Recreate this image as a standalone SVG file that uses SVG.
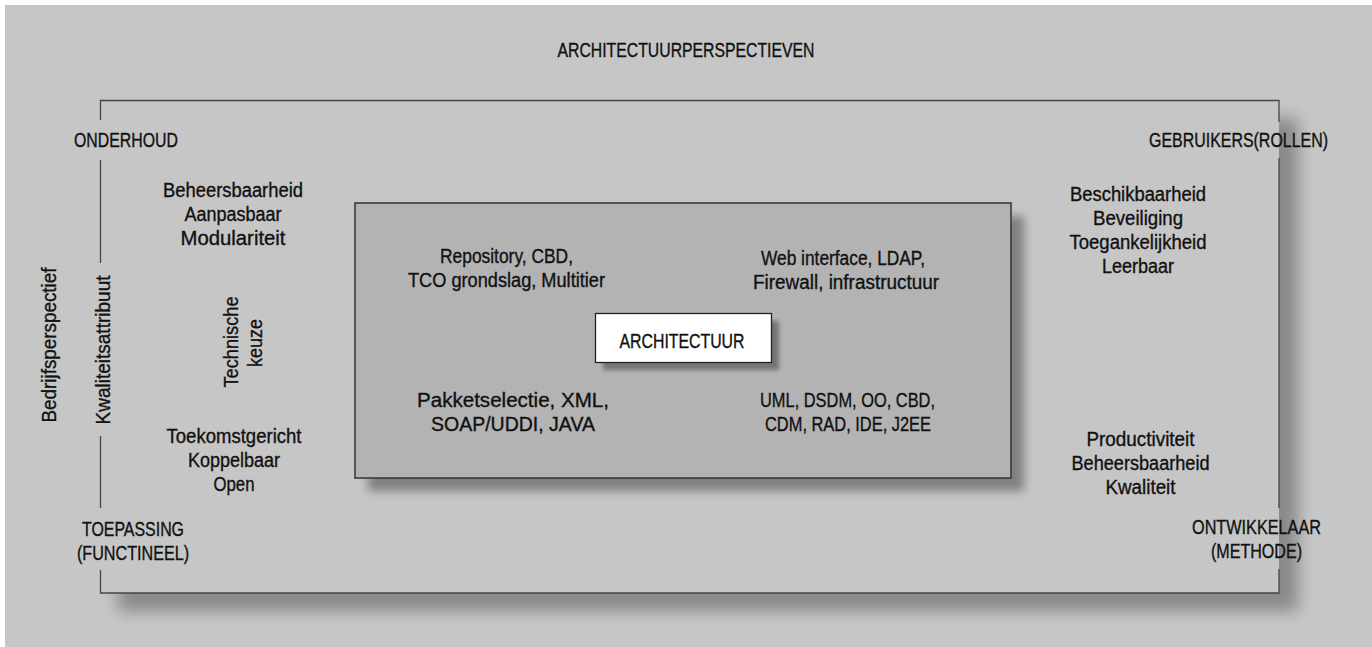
<svg xmlns="http://www.w3.org/2000/svg" width="1372" height="647" viewBox="0 0 1372 647">
<style>
text{font-family:"Liberation Sans",Arial,sans-serif;font-size:20px;fill:#111;stroke:#111;stroke-width:0.35;text-anchor:middle}
.frame{stroke:#454545;stroke-width:1.3;fill:none}
</style>
<defs>
<filter id="sh1" x="-10%" y="-10%" width="130%" height="130%"><feGaussianBlur stdDeviation="8"/></filter>
<filter id="sh2" x="-10%" y="-10%" width="130%" height="130%"><feGaussianBlur stdDeviation="5"/></filter>
<filter id="sh3" x="-10%" y="-20%" width="130%" height="150%"><feGaussianBlur stdDeviation="2"/></filter>
</defs>
<rect x="0" y="0" width="1372" height="647" fill="#ffffff"/>
<rect x="5" y="5" width="1367" height="642" fill="#c6c6c6"/>
<g id="frame">
<rect x="118" y="118" width="1180" height="493" fill="#000" opacity="0.3" filter="url(#sh1)"/>
<rect x="100.5" y="100.5" width="1178.5" height="492.5" fill="#c6c6c6"/>
<path class="frame" d="M100.5,120 V100.5 H1279 V122 M1279,158 V508 M1279,569 V593 H100.5 V570 M100.5,508 V436 M100.5,263 V160"/>
</g>
<text x="686" y="57" textLength="257" lengthAdjust="spacingAndGlyphs">ARCHITECTUURPERSPECTIEVEN</text>
<g id="onderhoud"><text x="126" y="147" textLength="104" lengthAdjust="spacingAndGlyphs">ONDERHOUD</text></g>
<g id="gebruikers"><text x="1238.5" y="147" textLength="179" lengthAdjust="spacingAndGlyphs">GEBRUIKERS(ROLLEN)</text></g>
<g id="toepassing"><text x="133" y="536" textLength="102" lengthAdjust="spacingAndGlyphs">TOEPASSING</text><text x="133" y="560" textLength="112" lengthAdjust="spacingAndGlyphs">(FUNCTINEEL)</text></g>
<g id="ontwikkelaar"><text x="1256.5" y="534" textLength="129" lengthAdjust="spacingAndGlyphs">ONTWIKKELAAR</text><text x="1256.5" y="558" textLength="91" lengthAdjust="spacingAndGlyphs">(METHODE)</text></g>
<g id="bedrijfsperspectief"><text transform="translate(56,345) rotate(-90)" x="0" y="0" textLength="155" lengthAdjust="spacingAndGlyphs">Bedrijfsperspectief</text></g>
<g id="kwaliteitsattribuut"><text transform="translate(110,350) rotate(-90)" x="0" y="0" textLength="149" lengthAdjust="spacingAndGlyphs">Kwaliteitsattribuut</text></g>
<g id="technische-keuze"><text transform="translate(238,342) rotate(-90)" x="0" y="0" textLength="91" lengthAdjust="spacingAndGlyphs">Technische</text><text transform="translate(262,343) rotate(-90)" x="0" y="0" textLength="48" lengthAdjust="spacingAndGlyphs">keuze</text></g>
<g id="onderhoud-attr"><text x="233" y="197" textLength="140" lengthAdjust="spacingAndGlyphs">Beheersbaarheid</text><text x="233" y="221" textLength="97" lengthAdjust="spacingAndGlyphs">Aanpasbaar</text><text x="233" y="245" textLength="105" lengthAdjust="spacingAndGlyphs">Modulariteit</text></g>
<g id="gebruikers-attr"><text x="1138" y="201" textLength="136" lengthAdjust="spacingAndGlyphs">Beschikbaarheid</text><text x="1138" y="225" textLength="90" lengthAdjust="spacingAndGlyphs">Beveiliging</text><text x="1138" y="249" textLength="137" lengthAdjust="spacingAndGlyphs">Toegankelijkheid</text><text x="1138" y="273" textLength="72" lengthAdjust="spacingAndGlyphs">Leerbaar</text></g>
<g id="toepassing-attr"><text x="234" y="443" textLength="135" lengthAdjust="spacingAndGlyphs">Toekomstgericht</text><text x="234" y="467" textLength="92" lengthAdjust="spacingAndGlyphs">Koppelbaar</text><text x="234" y="491" textLength="41" lengthAdjust="spacingAndGlyphs">Open</text></g>
<g id="ontwikkelaar-attr"><text x="1140.5" y="446" textLength="108" lengthAdjust="spacingAndGlyphs">Productiviteit</text><text x="1140.5" y="470" textLength="138" lengthAdjust="spacingAndGlyphs">Beheersbaarheid</text><text x="1140.5" y="494" textLength="70" lengthAdjust="spacingAndGlyphs">Kwaliteit</text></g>
<g id="kern">
<rect x="368" y="216" width="656" height="275" fill="#000" opacity="0.35" filter="url(#sh2)"/>
<rect x="355" y="203" width="656" height="275" fill="#b3b3b3" stroke="#333" stroke-width="1.5"/>
<text x="506.5" y="263" textLength="133" lengthAdjust="spacingAndGlyphs">Repository, CBD,</text><text x="506.5" y="287" textLength="197" lengthAdjust="spacingAndGlyphs">TCO grondslag, Multitier</text>
<text x="843" y="265" textLength="164" lengthAdjust="spacingAndGlyphs">Web interface, LDAP,</text><text x="846" y="289" textLength="186" lengthAdjust="spacingAndGlyphs">Firewall, infrastructuur</text>
<text x="513" y="407" textLength="192" lengthAdjust="spacingAndGlyphs">Pakketselectie, XML,</text><text x="513" y="431" textLength="164" lengthAdjust="spacingAndGlyphs">SOAP/UDDI, JAVA</text>
<text x="847.5" y="407" textLength="175" lengthAdjust="spacingAndGlyphs">UML, DSDM, OO, CBD,</text><text x="848" y="431" textLength="166" lengthAdjust="spacingAndGlyphs">CDM, RAD, IDE, J2EE</text>
</g>
<g id="architectuur">
<rect x="603" y="321" width="176" height="49" fill="#000" opacity="0.35" filter="url(#sh3)"/>
<rect x="595.5" y="313.5" width="176" height="49" fill="#fff" stroke="#222" stroke-width="1.3"/>
<text x="682" y="348" textLength="125" lengthAdjust="spacingAndGlyphs">ARCHITECTUUR</text>
</g>
</svg>
